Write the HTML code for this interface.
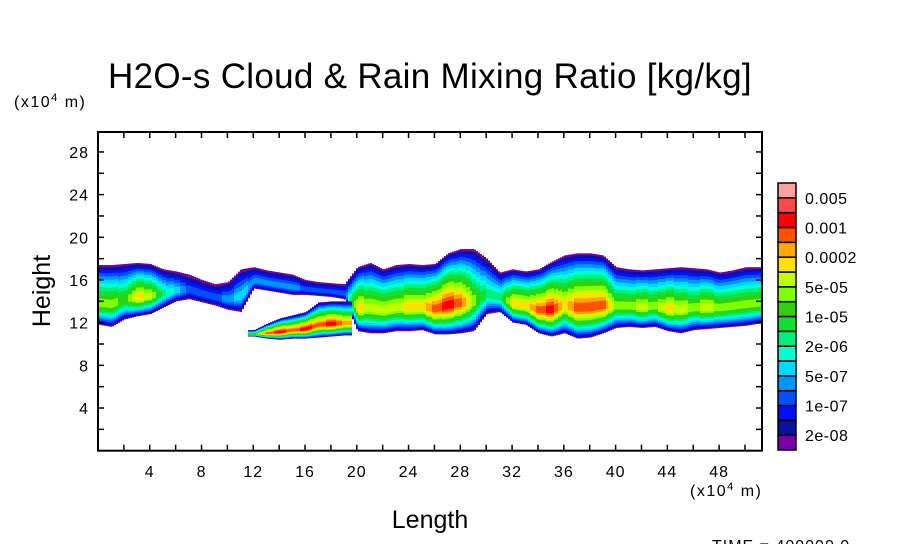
<!DOCTYPE html>
<html><head><meta charset="utf-8"><style>
html,body{margin:0;padding:0;background:#fff;}
svg{display:block;font-family:"Liberation Sans",sans-serif;}
</style></head><body>
<svg id="chart" width="904" height="544" viewBox="0 0 904 544" xmlns="http://www.w3.org/2000/svg">
<rect width="904" height="544" fill="#fff"/>
<text x="430" y="88" font-size="35" text-anchor="middle" fill="#000" letter-spacing="0.3">H2O-s Cloud &amp; Rain Mixing Ratio [kg/kg]</text>
<text x="14" y="107" font-size="16" letter-spacing="1.5" fill="#000">(x10<tspan font-size="11" dy="-6">4</tspan><tspan dy="6"> m)</tspan></text>
<text x="0" y="0" font-size="25" text-anchor="middle" transform="translate(50,291) rotate(-90)" fill="#000">Height</text>
<text x="690" y="496" font-size="16" letter-spacing="1.5" fill="#000">(x10<tspan font-size="11" dy="-6">4</tspan><tspan dy="6"> m)</tspan></text>
<text x="430" y="528" font-size="25" text-anchor="middle" fill="#000">Length</text>
<text x="712" y="551" font-size="16" letter-spacing="1" fill="#000">TIME = 400000.0</text>
<g id="plot"></g>
<g id="axes"></g>
<g id="cbar"></g>
</svg>
<script>
// ---- data ----
const xCols = [0,1,2,3,4,5,6,7,8,9,10,11,12,13,14,15,16,17,18,19,20,21,22,23,24,25,26,27,28,29,30,31,32,33,34,35,36,37,38,39,40,41,42,43,44,45,46,47,48,49,50,51];
const upperTop = [17.4,17.4,17.5,17.6,17.5,17.0,16.8,16.5,16.0,15.6,15.8,17.0,17.2,16.9,16.7,16.5,16.0,15.8,15.7,15.6,17.2,17.6,17.0,17.4,17.5,17.4,17.5,18.5,18.9,18.9,18.0,16.7,17.0,16.8,17.0,17.7,18.3,18.5,18.5,18.3,17.2,17.0,16.9,17.0,17.1,17.2,17.1,17.0,16.7,16.9,17.2,17.2];
const upperBottom = [11.8,11.6,12.3,12.6,12.8,13.4,14.0,14.2,13.9,13.6,13.2,13.0,15.2,15.0,14.8,14.6,14.6,14.5,14.4,14.2,11.2,11.0,11.0,11.2,11.2,11.3,10.9,10.9,11.0,11.2,12.8,13.0,12.0,11.8,11.0,10.7,11.0,10.5,10.6,11.0,11.5,11.6,11.5,11.6,11.2,11.0,11.3,11.4,11.5,11.6,11.7,11.9];
const upperPeak = [11,11,10,13,12,8,6,4,4,4,5,6,5,5,5,5,4,4,4,4,13,12,12,12,13,13,15,16,15,11,8,8,13,13,15,16,13,15,15,15,11,11,12,11,13,12,11,12,11,11,11,11];
const lowerTop = [0,0,0,0,0,0,0,0,0,0,0,0,11.3,11.9,12.4,12.7,13.0,13.9,14.0,14.0,0,0,0,0,0,0,0,0,0,0,0,0,0,0,0,0,0,0,0,0,0,0,0,0,0,0,0,0,0,0,0,0];
const lowerBottom = [0,0,0,0,0,0,0,0,0,0,0,0,10.7,10.5,10.4,10.5,10.5,10.6,10.7,10.8,0,0,0,0,0,0,0,0,0,0,0,0,0,0,0,0,0,0,0,0,0,0,0,0,0,0,0,0,0,0,0,0];
const lowerPeak = [0,0,0,0,0,0,0,0,0,0,0,0,10,15,16,15,16,15,16,14,0,0,0,0,0,0,0,0,0,0,0,0,0,0,0,0,0,0,0,0,0,0,0,0,0,0,0,0,0,0,0,0];
const levelColors = ['#7800a8','#0a10a0','#0010ff','#0050ff','#0096ff','#00d8ff','#00ffd0','#00f080','#10e030','#30d010','#80ff00','#c0ff00','#ffe000','#ffa800','#ff5000','#ff0000','#ff4848','#ffa0a0'];
const levelLabels = ['0.005','0.001','0.0002','5e-05','1e-05','2e-06','5e-07','1e-07','2e-08'];
const xTickLabels = [4,8,12,16,20,24,28,32,36,40,44,48];
const yTickLabels = [4,8,12,16,20,24,28];

// ---- axes functions ----
const X0=98, X1=762, Y0=450.7, Y1=132;
const XMAX=(X1-X0)/12.94, YPX=10.67;
const sx = u => X0 + u*12.94;
const sy = h => Y0 - h*YPX;
const NS='http://www.w3.org/2000/svg';
function mk(tag, attrs, parent){const e=document.createElementNS(NS,tag);for(const k in attrs)e.setAttribute(k,attrs[k]);parent.appendChild(e);return e;}

const plot=document.getElementById('plot');
function interp(arr,u){const i=Math.floor(u);const f=u-i;const a=arr[Math.min(i,arr.length-1)],b=arr[Math.min(i+1,arr.length-1)];return a+(b-a)*f;}
function drawLayer(top,bot,peak,name,cfrac){
  for(let px=X0;px<X1;px+=2){
    const u=(px-X0)/12.94;
    const i=Math.floor(u);
    const ia=Math.min(i,xCols.length-1), ib=Math.min(i+1,xCols.length-1);
    if(peak[ia]===0 && peak[ib]===0) continue;
    if(peak[ia]===0 || peak[ib]===0){ if((peak[ia]===0 && u-i<0.5)||(peak[ib]===0 && u-i>=0.5)) continue; }
    const t=peak[ia]===0?top[ib]:peak[ib]===0?top[ia]:interp(top,u);
    const b=peak[ia]===0?bot[ib]:peak[ib]===0?bot[ia]:interp(bot,u);
    const p=Math.round(peak[ia]===0?peak[ib]:peak[ib]===0?peak[ia]:interp(peak,u));
    const c=b+(t-b)*cfrac;
    for(let k=1;k<=p;k++){
      const fr=Math.pow((k-1)/p,1.2);
      const lo=b+(c-b)*fr*0.97, hi=t-(t-c)*fr*0.97;
      const r=mk('rect',{x:px,y:sy(hi),width:2,height:Math.max(0,sy(lo)-sy(hi)),fill:levelColors[k-1]},plot);
      
      
    }
  }
}
drawLayer(upperTop,upperBottom,upperPeak,'upper-cloud',0.35);
drawLayer(lowerTop,lowerBottom,lowerPeak,'lower-cloud',0.35);

// axes
const ax=document.getElementById('axes');
const frame=mk('rect',{x:X0,y:Y1,width:X1-X0,height:Y0-Y1,fill:'none',stroke:'#000','stroke-width':2},ax);


for(let u=2;u<XMAX;u+=2){
  mk('line',{x1:sx(u),x2:sx(u),y1:Y0,y2:Y0-6,stroke:'#000','stroke-width':1.5},ax);
  mk('line',{x1:sx(u),x2:sx(u),y1:Y1,y2:Y1+6,stroke:'#000','stroke-width':1.5},ax);
}
for(let h=2;h<30;h+=2){
  mk('line',{x1:X0,x2:X0+6,y1:sy(h),y2:sy(h),stroke:'#000','stroke-width':1.5},ax);
  mk('line',{x1:X1,x2:X1-6,y1:sy(h),y2:sy(h),stroke:'#000','stroke-width':1.5},ax);
}
xTickLabels.forEach(v=>{
  const t=mk('text',{x:sx(v),y:477,'font-size':16,'text-anchor':'middle',fill:'#000','letter-spacing':1},ax);
  t.textContent=v;
  
  
});
yTickLabels.forEach(v=>{
  const t=mk('text',{x:89,y:sy(v)+6,'font-size':16,'text-anchor':'end',fill:'#000','letter-spacing':1},ax);
  t.textContent=v;
  
  
});

// colorbar
const cb=document.getElementById('cbar');
const CB_TOP=183, CB_BOT=450, nL=levelColors.length, bh=(CB_BOT-CB_TOP)/nL;
for(let k=0;k<nL;k++){
  const r=mk('rect',{x:778,y:CB_BOT-(k+1)*bh,width:18,height:bh,fill:levelColors[k],stroke:'#000','stroke-width':1.5},cb);
  
  
}
levelLabels.forEach((l,i)=>{
  const t=mk('text',{x:805,y:CB_TOP+bh*(1+2*i)+6,'font-size':16,fill:'#000','letter-spacing':0.5},cb);
  t.textContent=l;
  
  
});
</script>
</body></html>
